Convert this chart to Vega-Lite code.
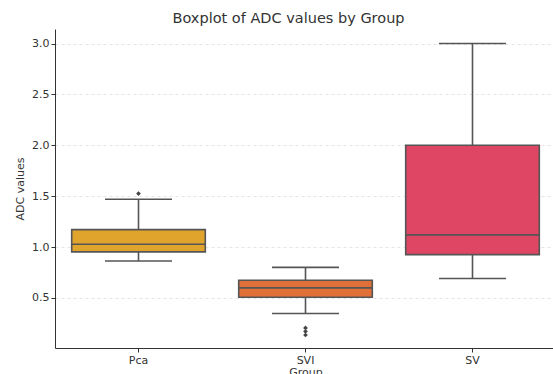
{
  "$schema": "https://vega.github.io/schema/vega-lite/v6.json",
  "autosize": {"type": "none"},
  "padding": {"left": 55, "top": 29, "right": 0, "bottom": 30},
  "width": 501,
  "height": 319,
  "background": "white",
  "title": {"text": "Boxplot of ADC values by Group", "font": "DejaVu Sans", "fontSize": 14.5, "fontWeight": "normal", "color": "#333333", "offset": 3, "dx": -17},
  "datasets": {
    "boxes": [
      {"Group": "Pca", "lower": 0.863, "q1": 0.952, "median": 1.027, "q3": 1.171, "upper": 1.469},
      {"Group": "SVI", "lower": 0.346, "q1": 0.506, "median": 0.598, "q3": 0.673, "upper": 0.80},
      {"Group": "SV", "lower": 0.69, "q1": 0.925, "median": 1.119, "q3": 2.0, "upper": 3.0}
    ],
    "outliers": [
      {"Group": "Pca", "value": 1.525},
      {"Group": "SVI", "value": 0.205},
      {"Group": "SVI", "value": 0.17},
      {"Group": "SVI", "value": 0.135}
    ]
  },
  "config": {
    "view": {"stroke": null},
    "font": "DejaVu Sans",
    "axis": {"labelFont": "DejaVu Sans", "titleFont": "DejaVu Sans", "labelFontSize": 11, "titleFontSize": 11, "titleFontWeight": "normal", "labelColor": "#333333", "titleColor": "#333333", "domainColor": "#333333", "tickColor": "#333333"}
  },
  "encoding": {
    "x": {"field": "Group", "type": "nominal", "sort": ["Pca", "SVI", "SV"],
      "scale": {"domain": ["Pca", "SVI", "SV"], "paddingInner": 0, "paddingOuter": 0},
      "axis": {"labelAngle": 0, "title": "Group", "grid": false, "tickSize": 4, "labelPadding": 2, "titlePadding": 1, "domainWidth": 1}}
  },
  "layer": [
    {
      "data": {"name": "boxes"},
      "mark": {"type": "rule", "color": "#555555", "strokeWidth": 1.6},
      "encoding": {
        "y": {"field": "upper", "type": "quantitative",
          "scale": {"domain": [0.0075, 3.1425], "nice": false, "zero": false},
          "axis": {"title": "ADC values", "values": [0.5, 1.0, 1.5, 2.0, 2.5, 3.0], "format": ".1f", "grid": true, "gridDash": [3, 3], "gridColor": "#dddddd", "gridWidth": 0.8, "tickSize": 4, "titlePadding": 6, "domainWidth": 1}},
        "y2": {"field": "lower"}
      }
    },
    {
      "data": {"name": "boxes"},
      "mark": {"type": "bar", "width": {"band": 0.8}, "stroke": "#555555", "strokeWidth": 1.6},
      "encoding": {
        "y": {"field": "q1", "type": "quantitative"},
        "y2": {"field": "q3"},
        "color": {"field": "Group", "type": "nominal", "legend": null,
          "scale": {"domain": ["Pca", "SVI", "SV"], "range": ["#E0A32C", "#E07038", "#DE4664"]}}
      }
    },
    {
      "data": {"name": "boxes"},
      "mark": {"type": "tick", "color": "#555555", "size": 134, "thickness": 1.6, "opacity": 1},
      "encoding": {"y": {"field": "median", "type": "quantitative"}}
    },
    {
      "data": {"name": "boxes"},
      "mark": {"type": "tick", "color": "#555555", "size": 67, "thickness": 1.6, "opacity": 1},
      "encoding": {"y": {"field": "upper", "type": "quantitative"}}
    },
    {
      "data": {"name": "boxes"},
      "mark": {"type": "tick", "color": "#555555", "size": 67, "thickness": 1.6, "opacity": 1},
      "encoding": {"y": {"field": "lower", "type": "quantitative"}}
    },
    {
      "data": {"name": "outliers"},
      "mark": {"type": "point", "shape": "diamond", "filled": true, "color": "#444444", "size": 22, "opacity": 1},
      "encoding": {"y": {"field": "value", "type": "quantitative"}}
    }
  ]
}
